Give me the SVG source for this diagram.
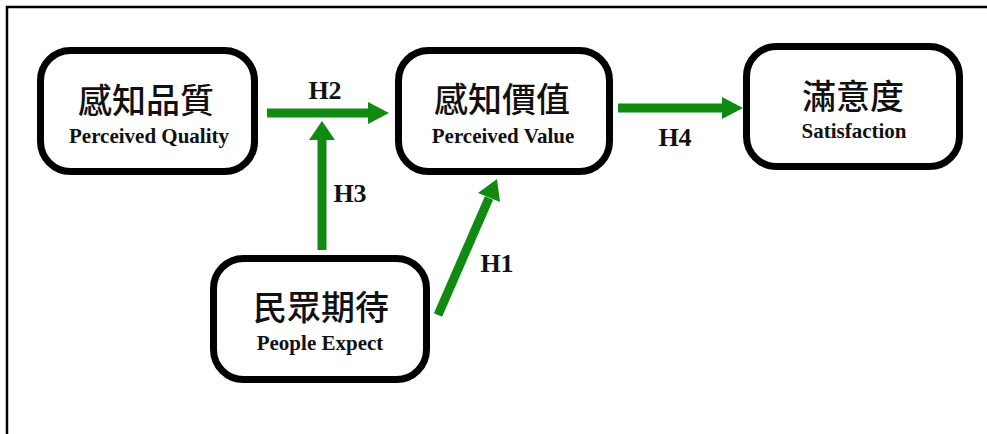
<svg xmlns="http://www.w3.org/2000/svg" width="987" height="434" viewBox="0 0 987 434">
<defs>
<style>
.box{fill:#fff;stroke:#000;stroke-width:7}
.zh{font-family:"Noto Sans CJK TC","Noto Sans CJK SC",sans-serif;font-weight:500;font-size:34px;text-anchor:middle;fill:#111}
.en{font-family:"Liberation Serif",serif;font-weight:bold;font-size:21px;text-anchor:middle;fill:#111}
.lbl{font-family:"Liberation Serif",serif;font-weight:bold;font-size:26px;text-anchor:middle;fill:#111}
.shaft{stroke:#118a11;stroke-width:9;fill:none}
.head{fill:#118a11}
</style>
</defs>
<rect width="987" height="434" fill="#fff"/>
<path d="M7 434 V7 H987" fill="none" stroke="#000" stroke-width="2.5"/>
<g id="connectors">
<g id="h2"><line class="shaft" x1="267" y1="113" x2="370" y2="113"/><polygon class="head" points="368,102 389,113 368,124"/></g>
<g id="h3"><line class="shaft" x1="322" y1="250" x2="322" y2="138"/><polygon class="head" points="309,140 322,121 335,140"/></g>
<g id="h4"><line class="shaft" x1="618" y1="108" x2="724" y2="108"/><polygon class="head" points="722,97 743,108 722,119"/></g>
<g id="h1"><line class="shaft" x1="438" y1="315" x2="489" y2="198"/><polygon class="head" points="478,193 497,179 500,202"/></g>
<text class="lbl" x="325" y="99">H2</text>
<text class="lbl" x="350" y="202">H3</text>
<text class="lbl" x="497" y="272">H1</text>
<text class="lbl" x="675" y="146">H4</text>
</g>
<g id="quality">
<rect class="box" x="40.5" y="50.5" width="214" height="121" rx="30"/>
<text class="zh" x="146" y="113">感知品質</text>
<text class="en" x="149" y="143">Perceived Quality</text>
</g>
<g id="value">
<rect class="box" x="398.5" y="50.5" width="211" height="121" rx="30"/>
<text class="zh" x="502" y="112">感知價值</text>
<text class="en" x="503" y="143">Perceived Value</text>
</g>
<g id="satisfaction">
<rect class="box" x="746.5" y="46.5" width="213" height="120" rx="30"/>
<text class="zh" x="853" y="109">滿意度</text>
<text class="en" x="854" y="138">Satisfaction</text>
</g>
<g id="expect">
<rect class="box" x="213.5" y="258.5" width="213" height="121" rx="30"/>
<text class="zh" x="321" y="320">民眾期待</text>
<text class="en" x="320" y="350">People Expect</text>
</g>
</svg>
